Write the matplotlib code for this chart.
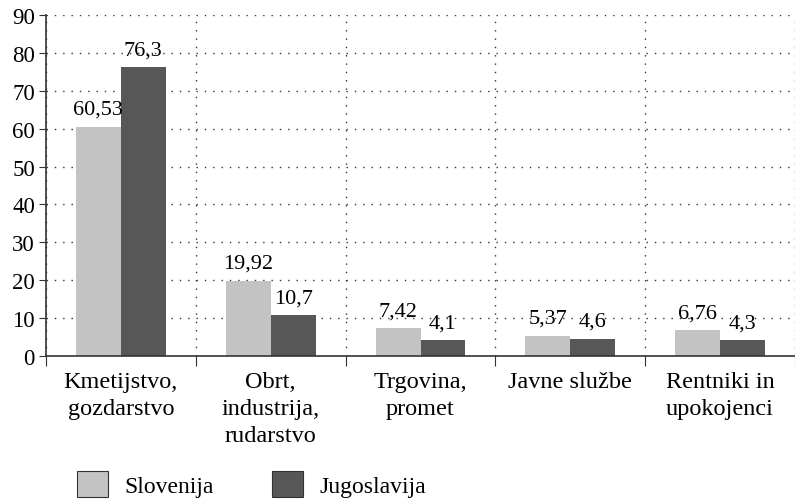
import matplotlib
matplotlib.use("Agg")
import matplotlib.pyplot as plt
import numpy as np
from matplotlib.patches import Patch

plt.rcParams['font.family'] = ['Liberation Serif', 'DejaVu Serif']

categories = ["Kmetijstvo,\ngozdarstvo", "Obrt,\nindustrija,\nrudarstvo",
              "Trgovina,\npromet", "Javne službe", "Rentniki in\nupokojenci"]
slovenija = [60.53, 19.92, 7.42, 5.37, 6.76]
jugoslavija = [76.3, 10.7, 4.1, 4.6, 4.3]
series_names = ["Slovenija", "Jugoslavija"]
colors = ["#c3c3c3", "#575757"]

fig = plt.figure(figsize=(7.95, 5.02), dpi=100)
ax = fig.add_axes([46/795, 145/502, 749/795, 341/502])

x = np.arange(len(categories))
w = 0.3
for vals, off, c in [(slovenija, -w/2, colors[0]), (jugoslavija, w/2, colors[1])]:
    bars = ax.bar(x + off, vals, width=w, color=c, zorder=2)
    for b, v in zip(bars, vals):
        ax.annotate(f"{v:g}".replace('.', ','), (b.get_x() + b.get_width()/2, v),
                    xytext=(0, 5.5), textcoords="offset points",
                    ha="center", va="bottom", fontsize=16, zorder=3)

ax.set_xlim(-0.5, -0.5 + 749/151)
ax.set_ylim(0, 90)
ax.set_yticks(range(0, 91, 10))
ax.tick_params(axis='y', labelsize=16.5, length=5, color="#333333", pad=3)

# boundaries as major ticks (marks + vertical grid), labels on minor ticks
ax.set_xticks(np.arange(-0.5, len(categories), 1.0))
ax.set_xticklabels([])
ax.set_xticks(x, minor=True)
ax.set_xticklabels(categories, minor=True, fontsize=17.5, linespacing=1.38)
ax.tick_params(axis='x', which='major', length=7, color="#333333")
ax.tick_params(axis='x', which='minor', length=0, pad=11)

ax.grid(True, which='major', linestyle=(0, (1, 5)), color="#333333", linewidth=1.0, zorder=0)

for s in ['top', 'right']:
    ax.spines[s].set_visible(False)
for s in ['left', 'bottom']:
    ax.spines[s].set_color("#333333")
    ax.spines[s].set_linewidth(1.2)

handles = [Patch(facecolor=c, edgecolor="#333333", linewidth=0.8) for c in colors]
fig.legend(handles, series_names, loc='center left', bbox_to_anchor=(65/795, 1 - 485/502),
           ncol=2, frameon=False, fontsize=17, handlelength=1.3, handleheight=1.3,
           columnspacing=2.5, handletextpad=0.7, borderpad=0)

fig.savefig("out.png", dpi=100)
